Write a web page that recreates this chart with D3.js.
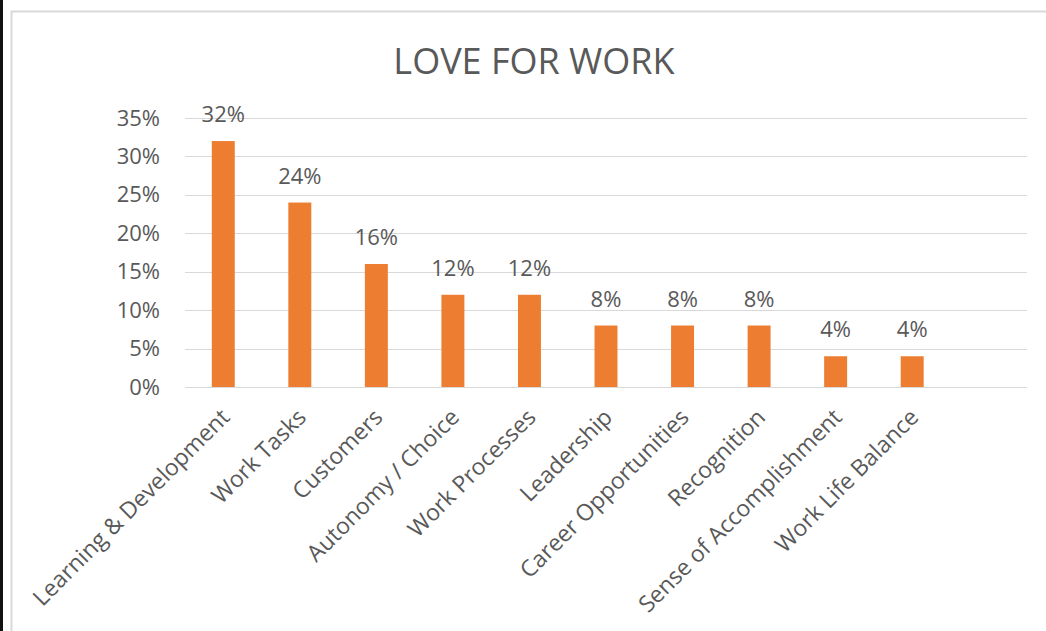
<!DOCTYPE html>
<html>
<head>
<meta charset="utf-8">
<script src="https://cdn.jsdelivr.net/npm/d3@7"></script>
<style>
  body { margin: 0; background: #fff; }
  text { font-family: "Open Sans", "Noto Sans", sans-serif; fill: #595959; }
</style>
</head>
<body>
<svg></svg>
<script>
const WIDTH = 1046;
const HEIGHT = 631;

const categories = [
  "Learning & Development", "Work Tasks", "Customers", "Autonomy / Choice",
  "Work Processes", "Leadership", "Career Opportunities", "Recognition",
  "Sense of Accomplishment", "Work Life Balance", ""
];
const values = [0.32, 0.24, 0.16, 0.12, 0.12, 0.08, 0.08, 0.08, 0.04, 0.04];
const yTicks = [0, 0.05, 0.10, 0.15, 0.20, 0.25, 0.30, 0.35];
const title = "LOVE FOR WORK";

const plotLeft = 185;
const plotRight = 1027;
const plotTop = 118;
const plotBottom = 387;

var svg = d3.select("svg").attr("width", WIDTH).attr("height", HEIGHT);

// frame
svg.append("rect").attr("x", 0).attr("y", 0).attr("width", 3).attr("height", HEIGHT).attr("fill", "#111");
svg.append("rect")
  .attr("x", 11.5).attr("y", 11.5).attr("width", WIDTH + 20).attr("height", HEIGHT + 20)
  .attr("fill", "none").attr("stroke", "#d9d9d9").attr("stroke-width", 2);

var x = d3.scaleBand().domain(categories).range([plotLeft, plotRight]).paddingInner(0.7).paddingOuter(0.35);
var y = d3.scaleLinear().domain([0, 0.35]).range([plotBottom, plotTop]);

// gridlines
svg.append("g").selectAll("line").data(yTicks).enter().append("line")
  .attr("x1", plotLeft).attr("x2", plotRight)
  .attr("y1", (d) => Math.round(y(d)) + 0.5).attr("y2", (d) => Math.round(y(d)) + 0.5)
  .attr("stroke", "#d9d9d9").attr("stroke-width", 1);

// y axis labels
var yAxis = d3.axisLeft(y).tickValues(yTicks).tickFormat(d3.format(".0%")).tickSize(0).tickPadding(25);
var gy = svg.append("g").attr("transform", "translate(" + plotLeft + ",0)").call(yAxis);
gy.select(".domain").remove();
gy.selectAll("text").attr("font-size", 22).style("fill", "#595959")
  .attr("font-family", "Open Sans, Noto Sans, sans-serif");

// bars
svg.append("g").selectAll("rect").data(values).enter().append("rect")
  .attr("x", (d, i) => x(categories[i]))
  .attr("y", (d) => y(d))
  .attr("width", x.bandwidth())
  .attr("height", (d) => plotBottom - y(d))
  .attr("fill", "#ed7d31");

// data labels
svg.append("g").selectAll("text").data(values).enter().append("text")
  .attr("x", (d, i) => x(categories[i]) + x.bandwidth() / 2)
  .attr("y", (d) => y(d) - 19)
  .attr("text-anchor", "middle")
  .attr("font-size", 22)
  .text((d) => Math.round(d * 100) + "%");

// category labels
svg.append("g").selectAll("text").data(categories.slice(0, values.length)).enter().append("text")
  .attr("transform", (d) => "translate(" + (x(d) + x.bandwidth() / 2 + 2) + "," + 413 + ") rotate(-45)")
  .attr("text-anchor", "end")
  .attr("dy", "0.35em")
  .attr("font-size", 23)
  .text((d) => d);

// title
svg.append("text")
  .attr("x", 534).attr("y", 74)
  .attr("text-anchor", "middle")
  .attr("font-size", 36)
  .text(title);
</script>
</body>
</html>
